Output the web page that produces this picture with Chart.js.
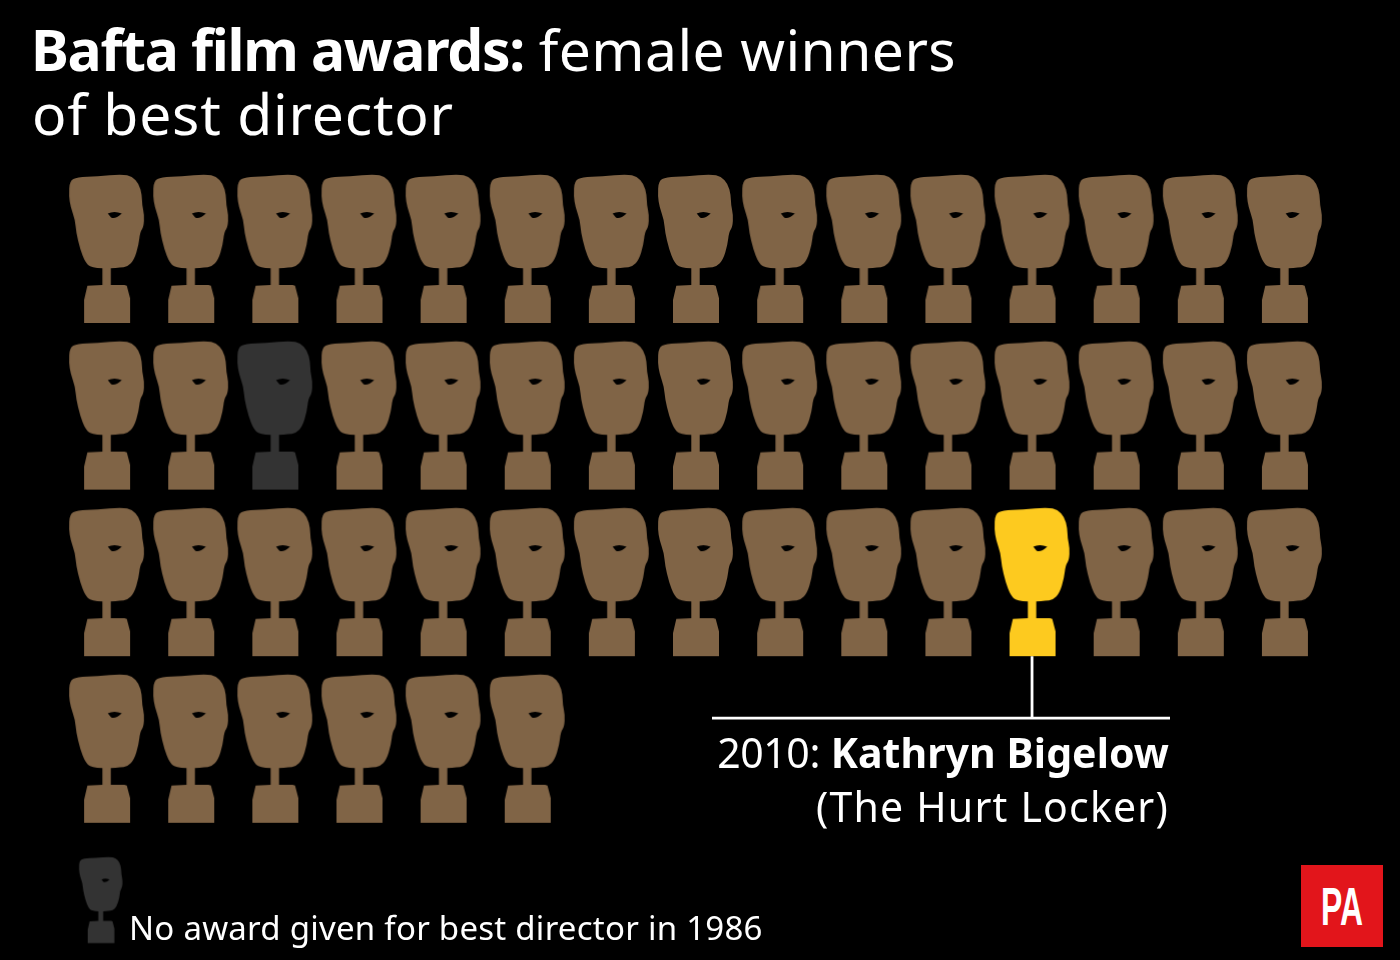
<!DOCTYPE html>
<html>
<head>
<meta charset="utf-8">
<title>Bafta film awards: female winners of best director</title>
<script src="https://cdn.jsdelivr.net/npm/chart.js@4"></script>
<style>
    html, body { margin: 0; background: #000; }
    #wrap { position: relative; width: 1400px; height: 960px; overflow: hidden; background: #000; color: #fff; font-family: "Noto Sans", sans-serif; }
    #wrap canvas { position: absolute; left: 0; top: 0; }
    .txt { position: absolute; white-space: nowrap; line-height: 1; margin: 0; font-weight: 400; }
    .txt b { font-weight: 700; }
    #logo { position: absolute; left: 1301px; top: 865px; width: 82px; height: 82px; background: #e2151b; }
    #logo span { position: absolute; left: 0; width: 82px; top: 14px; text-align: center; font: bold 54px/1 "Liberation Sans", sans-serif; color: #fff; transform: scaleX(0.59); }
</style>
</head>
<body>
<div id="wrap">
    <canvas id="chartAwards" width="1400" height="960"></canvas>
    <h1 class="txt" style="left:31px; top:21px; font-size:57px;"><b style="letter-spacing:-1.3px;">Bafta film awards:</b> <span style="letter-spacing:0.4px;">female winners</span></h1>
    <div class="txt" style="left:32px; top:85px; font-size:57px; letter-spacing:0.8px;">of best director</div>
    <div class="txt" style="right:231px; top:732px; font-size:41px;"><span style="letter-spacing:-0.4px;">2010:</span> <b style="letter-spacing:0.07px;">Kathryn Bigelow</b></div>
    <div class="txt" style="right:231px; top:786px; font-size:41px; letter-spacing:1.2px;">(The Hurt Locker)</div>
    <div class="txt" style="left:129px; top:911px; font-size:33px; letter-spacing:0.25px;">No award given for best director in 1986</div>
    <div id="logo"><span>PA</span></div>
</div>

<script>
const years = [
    1969, 1970, 1971, 1972, 1973, 1974, 1975, 1976, 1977, 1978, 1979, 1980, 1981, 1982, 1983,
    1984, 1985, 1986, 1987, 1988, 1989, 1990, 1991, 1992, 1993, 1994, 1995, 1996, 1997, 1998,
    1999, 2000, 2001, 2002, 2003, 2004, 2005, 2006, 2007, 2008, 2009, 2010, 2011, 2012, 2013,
    2014, 2015, 2016, 2017, 2018, 2019
];
const noAwardYears = [1986];
const femaleWinnerYears = [2010];
const perRow = 15;

// where the small key sits on the same column/row scales
const keyCol = [-0.063];
const keyRow = [3.907];

const brown = '#806446';
const yellow = '#fdca1f';
const grey = '#333333';

// trophy outline, traced in a 90x170 box
const head = [[42.3,103.3],[31,102.8],[25,97],[20,84],[16,67],[15,55],[10.5,42],[8.8,31],[9.5,16],[17,12.2],[37,11.2],[62,9.2],[72,11.5],[79,19],[81.8,30],[82,40],[84.2,50],[83.5,62],[80,67],[78.5,80],[74,95],[67,102],[60,102.7],[50.7,103.3]];
const stand = [[50.7,120],[64.3,120],[66.7,120.7],[70,133.3],[70,158],[24,158],[24,135],[27.3,120.7],[42.3,120]];

function trophy(colour, scale) {
    const c = document.createElement('canvas');
    c.width = Math.round(90 * scale);
    c.height = Math.round(170 * scale);
    const ctx = c.getContext('2d');
    ctx.scale(scale, scale);
    ctx.fillStyle = colour;
    ctx.beginPath();
    ctx.moveTo(head[0][0], head[0][1]);
    for (var i = 1; i < head.length - 1; i++) {
        var n = head[i + 1];
        ctx.quadraticCurveTo(head[i][0], head[i][1], (head[i][0] + n[0]) / 2, (head[i][1] + n[1]) / 2);
    }
    ctx.lineTo(head[head.length - 1][0], head[head.length - 1][1]);
    stand.forEach(function(p) {
        ctx.lineTo(p[0], p[1]);
    });
    ctx.closePath();
    ctx.fill();
    // the eye
    ctx.globalCompositeOperation = 'destination-out';
    ctx.beginPath();
    ctx.moveTo(47.7, 48.5);
    ctx.quadraticCurveTo(54, 45.5, 61.7, 48.5);
    ctx.quadraticCurveTo(55, 54.5, 51, 52.5);
    ctx.closePath();
    ctx.fill();
    return c;
}

function cell(year) {
    const i = years.indexOf(year);
    return { x: i % perRow, y: Math.floor(i / perRow) };
}

const plainYears = years.filter(function(y) {
    return noAwardYears.indexOf(y) < 0 && femaleWinnerYears.indexOf(y) < 0;
});

// leader line from the highlighted trophy down to the caption
const leaderPlugin = {
    id: 'leader',
    afterDatasetsDraw: function(chart) {
        const ctx = chart.ctx;
        const p = cell(femaleWinnerYears[0]);
        const x = chart.scales.x.getPixelForValue(p.x) + 1.5;
        const y = chart.scales.y.getPixelForValue(p.y);
        ctx.save();
        ctx.strokeStyle = '#fff';
        ctx.lineWidth = 2.8;
        ctx.beginPath();
        ctx.moveTo(x, y + 73);
        ctx.lineTo(x, y + 135);
        ctx.moveTo(712, y + 135);
        ctx.lineTo(1170, y + 135);
        ctx.stroke();
        ctx.restore();
    }
};

const data = {
    datasets: [{
        label: 'Male winner',
        data: plainYears.map(cell),
        pointStyle: trophy(brown, 1),
    }, {
        label: 'No award given',
        data: noAwardYears.map(cell),
        pointStyle: trophy(grey, 1),
    }, {
        label: 'Female winner',
        data: femaleWinnerYears.map(cell),
        pointStyle: trophy(yellow, 1),
    }, {
        label: 'Key',
        data: keyCol.map(function(x, i) { return { x: x, y: keyRow[i] }; }),
        pointStyle: trophy(grey, 0.58),
        clip: false,
    }],
};

const config = {
    type: 'scatter',
    data,
    options: {
        responsive: false,
        animation: false,
        layout: { padding: { left: 63, right: 75, top: 166.7, bottom: 0 } },
        scales: {
            x: { display: false, min: -0.5, max: 14.5 },
            y: { display: false, min: -0.5, max: 4.232, reverse: true },
        },
        plugins: {
            legend: { display: false },
            title: { display: false },
            tooltip: { enabled: false },
        },
    },
    plugins: [leaderPlugin],
};

var chartAwards = new Chart(document.getElementById('chartAwards'), config);
</script>
</body>
</html>
